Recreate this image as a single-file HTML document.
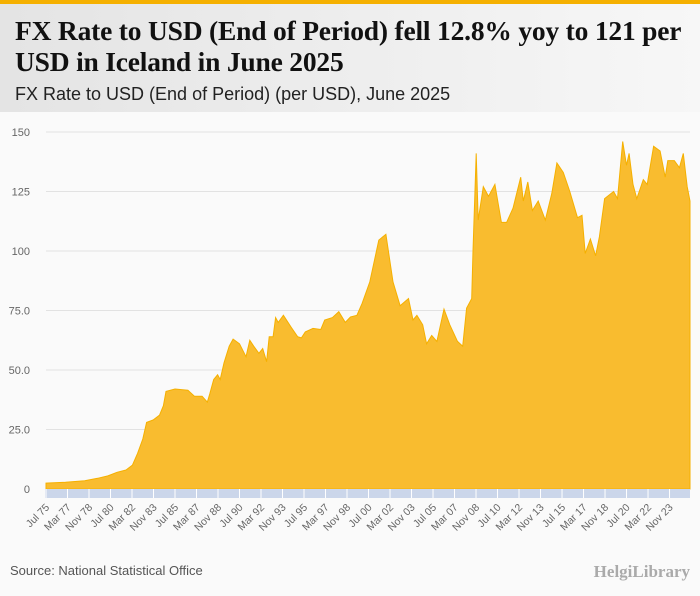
<!DOCTYPE html>
<html><head><meta charset="utf-8"><style>
body{margin:0;width:700px;height:596px;background:#fafafa;font-family:"Liberation Sans",sans-serif;overflow:hidden;position:relative}
#hdr{position:absolute;left:0;top:0;width:700px;height:112px;background:linear-gradient(90deg,#e4e4e4,#f7f7f7);border-top:4px solid #f5b000;box-sizing:border-box}
#title{position:absolute;left:15px;top:11px;font:bold 27.5px/31px "Liberation Serif",serif;color:#111;white-space:nowrap;letter-spacing:-0.2px}
#sub{position:absolute;left:15px;top:80px;font:18px "Liberation Sans",sans-serif;color:#222}
#src{position:absolute;left:10px;top:563px;font:13px "Liberation Sans",sans-serif;color:#555}
#logo{position:absolute;right:10px;top:562px;font:bold 17px "Liberation Serif",serif;color:#aaa}
svg{position:absolute;left:0;top:0}
</style></head><body>
<div id="hdr">
<div id="title">FX Rate to USD (End of Period) fell 12.8% yoy to 121 per<br>USD in Iceland in June 2025</div>
<div id="sub">FX Rate to USD (End of Period) (per USD), June 2025</div>
</div>
<svg id="chart" width="700" height="596"></svg>
<div id="src">Source: National Statistical Office</div>
<div id="logo">HelgiLibrary</div>
<script>
const years=[1975.5,1977,1978.5,1979.5,1980.3,1981,1981.7,1982.2,1982.6,1983.0,1983.3,1983.8,1984.3,1984.6,1984.8,1985.5,1986.5,1987.0,1987.6,1988.0,1988.2,1988.5,1988.8,1989.0,1989.3,1989.7,1990.0,1990.5,1991.0,1991.3,1991.6,1992.0,1992.3,1992.6,1992.8,1993.1,1993.3,1993.5,1993.9,1994.5,1995.0,1995.3,1995.6,1996.2,1996.8,1997.1,1997.7,1998.2,1998.7,1999.1,1999.6,2000.0,2000.6,2001.3,2001.85,2002.4,2002.95,2003.6,2003.95,2004.25,2004.7,2005.0,2005.4,2005.8,2006.35,2006.8,2007.4,2007.8,2008.1,2008.5,2008.6,2008.85,2009.0,2009.4,2009.8,2010.3,2010.8,2011.2,2011.7,2012.3,2012.5,2012.85,2013.2,2013.65,2014.2,2014.7,2015.1,2015.6,2016.1,2016.7,2017.05,2017.3,2017.7,2018.1,2018.4,2018.8,2019.5,2019.8,2020.2,2020.5,2020.7,2021.0,2021.3,2021.8,2022.1,2022.6,2023.1,2023.5,2023.7,2024.2,2024.6,2024.9,2025.2,2025.42];
const values=[2.5,2.8,3.5,4.5,5.5,7,8,10,15,21,28,29,31,35,41,42,41.5,39,39,36.5,40,46,48,46,53,60,63,61,55.6,62.5,60,57,59,53.5,64,64,72,70,73,68,64,63.5,66,67.5,67,71,72,74.5,70,72.3,73,78,87,104.6,107,87,77,80,71,73,69,61,64.5,62,75.6,69,62,60,76,80,100,141,113,127,123,128,112,112,118,131,121,129,117,121,113,124,137,133,125,114,115,99,105,98,106,122,125,122,146,136,141,128,122,130,128,144,142,131,138,138,135,141,127,121];
const yTicks=[0,25,50,75,100,125,150];
const yTickLabels=["0","25.0","50.0","75.0","100","125","150"];
const xTickLabels=["Jul 75","Mar 77","Nov 78","Jul 80","Mar 82","Nov 83","Jul 85","Mar 87","Nov 88","Jul 90","Mar 92","Nov 93","Jul 95","Mar 97","Nov 98","Jul 00","Mar 02","Nov 03","Jul 05","Mar 07","Nov 08","Jul 10","Mar 12","Nov 13","Jul 15","Mar 17","Nov 18","Jul 20","Mar 22","Nov 23"];
const NS="http://www.w3.org/2000/svg";
const svg=document.getElementById('chart');
const X0=46,X1=690,Y0=489,Y150=132,T0=1975.5,T1=2025.42;
const xs=t=>X0+(t-T0)/(T1-T0)*(X1-X0);
const ys=v=>Y0-v/150*(Y0-Y150);
function mk(tag,attrs){const e=document.createElementNS(NS,tag);for(const k in attrs)e.setAttribute(k,attrs[k]);svg.appendChild(e);return e;}
yTicks.forEach((v,i)=>{
 const g=mk('line',{x1:46,x2:690,y1:ys(v),y2:ys(v),stroke:'#e2e2e2','stroke-width':1});
 
 
 const t=mk('text',{x:30,y:ys(v)+4,'text-anchor':'end','font-size':11,fill:'#666','font-family':'Liberation Sans, sans-serif'});
 t.textContent=yTickLabels[i];
 
 
});
let d='M'+xs(years[0])+','+ys(0);
years.forEach((t,i)=>{d+=' L'+xs(t).toFixed(1)+','+ys(values[i]).toFixed(1);});
d+=' L'+xs(years[years.length-1])+','+ys(0)+' Z';
const area=mk('path',{d:d,fill:'#f9bc2f',stroke:'#f5b000','stroke-width':1});


const band=mk('rect',{x:45,y:489,width:645,height:9,fill:'#cbd6ea'});


xTickLabels.forEach((lab,i)=>{
 const t=T0+i*20/12;
 const x=xs(t);
 const tk=mk('line',{x1:x,x2:x,y1:489,y2:498,stroke:'#fff','stroke-width':1});
 
 
 const tx=mk('text',{x:x+4,y:508,'text-anchor':'end','font-size':10.5,fill:'#666','font-family':'Liberation Sans, sans-serif',transform:'rotate(-45 '+(x+4)+' 508)'});
 tx.textContent=lab;
 
 
});
</script>
</body></html>
